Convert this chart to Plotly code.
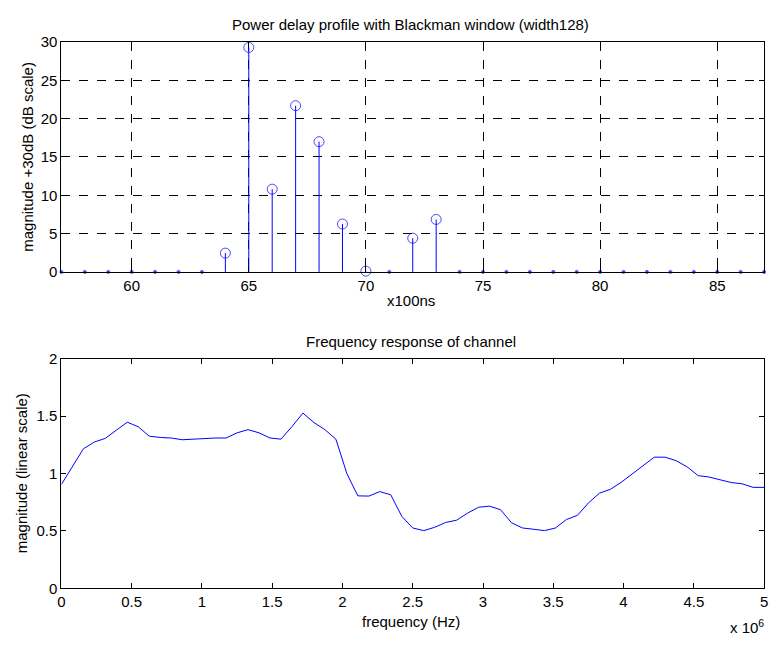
import plotly.graph_objects as go

# ---- data: power delay profile (x100ns, dB+30) ----
delay_idx = list(range(57, 88))
delay_db = [0, 0, 0, 0, 0, 0, 0, 2.45, 29.3, 10.8, 21.7, 17.0, 6.25, 0.1, 0,
            4.4, 6.85, 0, 0, 0, 0, 0, 0, 0, 0, 0, 0, 0, 0, 0, 0]
delay_ticks = [60, 65, 70, 75, 80, 85]

# ---- data: frequency response (65 samples, 0..5 MHz) ----
freq_mhz = [k * 5 / 64 for k in range(65)]
freq_mag = [0.905, 1.06, 1.216, 1.275, 1.307, 1.378, 1.448, 1.408, 1.326, 1.315,
            1.31, 1.295, 1.30, 1.31, 1.31, 1.31, 1.355, 1.383, 1.355, 1.31,
            1.30, 1.41, 1.527, 1.445, 1.383, 1.30, 1.00, 0.806, 0.804, 0.843,
            0.815, 0.628, 0.526, 0.503, 0.532, 0.574, 0.594, 0.656, 0.707, 0.716,
            0.685, 0.571, 0.526, 0.515, 0.503, 0.526, 0.60, 0.636, 0.744, 0.829,
            0.863, 0.925, 0.995, 1.069, 1.143, 1.143, 1.112, 1.058, 0.982, 0.97,
            0.948, 0.922, 0.911, 0.88, 0.88]
freq_hz = [f * 1e6 for f in freq_mhz]

W, H = 776, 646
FONT = "Liberation Sans, Arial, Helvetica, sans-serif"
BLUE = "#0000ff"

def px(x):
    return x / W

def py(y):
    return 1 - y / H

fig = go.Figure()

# stems
sx, sy = [], []
for x, v in zip(delay_idx, delay_db):
    sx += [x, x, None]
    sy += [0, v, None]
fig.add_trace(go.Scatter(x=sx, y=sy, mode="lines", line=dict(color=BLUE, width=1),
                         hoverinfo="skip", showlegend=False, xaxis="x", yaxis="y"))
fig.add_trace(go.Scatter(
    x=delay_idx, y=delay_db, mode="markers", showlegend=False, xaxis="x", yaxis="y",
    marker=dict(symbol=["circle-open" if v > 0 else "circle" for v in delay_db],
                size=[10 if v > 0 else 3 for v in delay_db],
                color=BLUE, line=dict(color=BLUE, width=1)),
    cliponaxis=False))

# frequency response
fig.add_trace(go.Scatter(x=freq_hz, y=freq_mag, mode="lines", line=dict(color=BLUE, width=1),
                         showlegend=False, xaxis="x2", yaxis="y2"))

axis_common = dict(showline=True, linecolor="black", linewidth=1, mirror="ticks",
                   ticks="inside", ticklen=5, tickcolor="black", zeroline=False,
                   tickfont=dict(family=FONT, size=15, color="black"))

fig.update_layout(
    width=W, height=H, margin=dict(l=0, r=0, t=0, b=0),
    paper_bgcolor="white", plot_bgcolor="white",
    font=dict(family=FONT, size=15, color="black"),
    xaxis=dict(domain=[px(58), px(768)], range=[57, 87], tickvals=delay_ticks,
               showgrid=True, gridcolor="black", gridwidth=1, griddash="dash",
               anchor="y", **axis_common),
    yaxis=dict(domain=[py(270), py(34)], range=[0, 30], tickvals=[0, 5, 10, 15, 20, 25, 30],
               showgrid=True, gridcolor="black", gridwidth=1, griddash="dash",
               anchor="x", **axis_common),
    xaxis2=dict(domain=[px(58), px(768)], range=[0, 5e6],
                tickvals=[k * 0.5e6 for k in range(11)],
                ticktext=["0", "0.5", "1", "1.5", "2", "2.5", "3", "3.5", "4", "4.5", "5"],
                showgrid=False, anchor="y2", **axis_common),
    yaxis2=dict(domain=[py(595), py(359.3)], range=[0, 2], tickvals=[0, 0.5, 1, 1.5, 2],
                ticktext=["0", "0.5", "1", "1.5", "2"],
                showgrid=False, anchor="x2", **axis_common),
)

ann = [
    dict(text="Power delay profile with Blackman window (width128)", x=px(411), y=py(16)),
    dict(text="x100ns", x=px(411), y=py(299)),
    dict(text="magnitude +30dB (dB scale)", x=px(23), y=py(152), textangle=-90),
    dict(text="Frequency response of channel", x=px(411), y=py(341)),
    dict(text="frequency (Hz)", x=px(411), y=py(629)),
    dict(text="magnitude (linear scale)", x=px(18), y=py(477), textangle=-90),
    dict(text="x 10<sup>6</sup>", x=px(751), y=py(634)),
]
for a in ann:
    fig.add_annotation(xref="paper", yref="paper", showarrow=False,
                       xanchor="center", yanchor="middle",
                       font=dict(family=FONT, size=15, color="black"), **a)

fig.write_html("out.html")
